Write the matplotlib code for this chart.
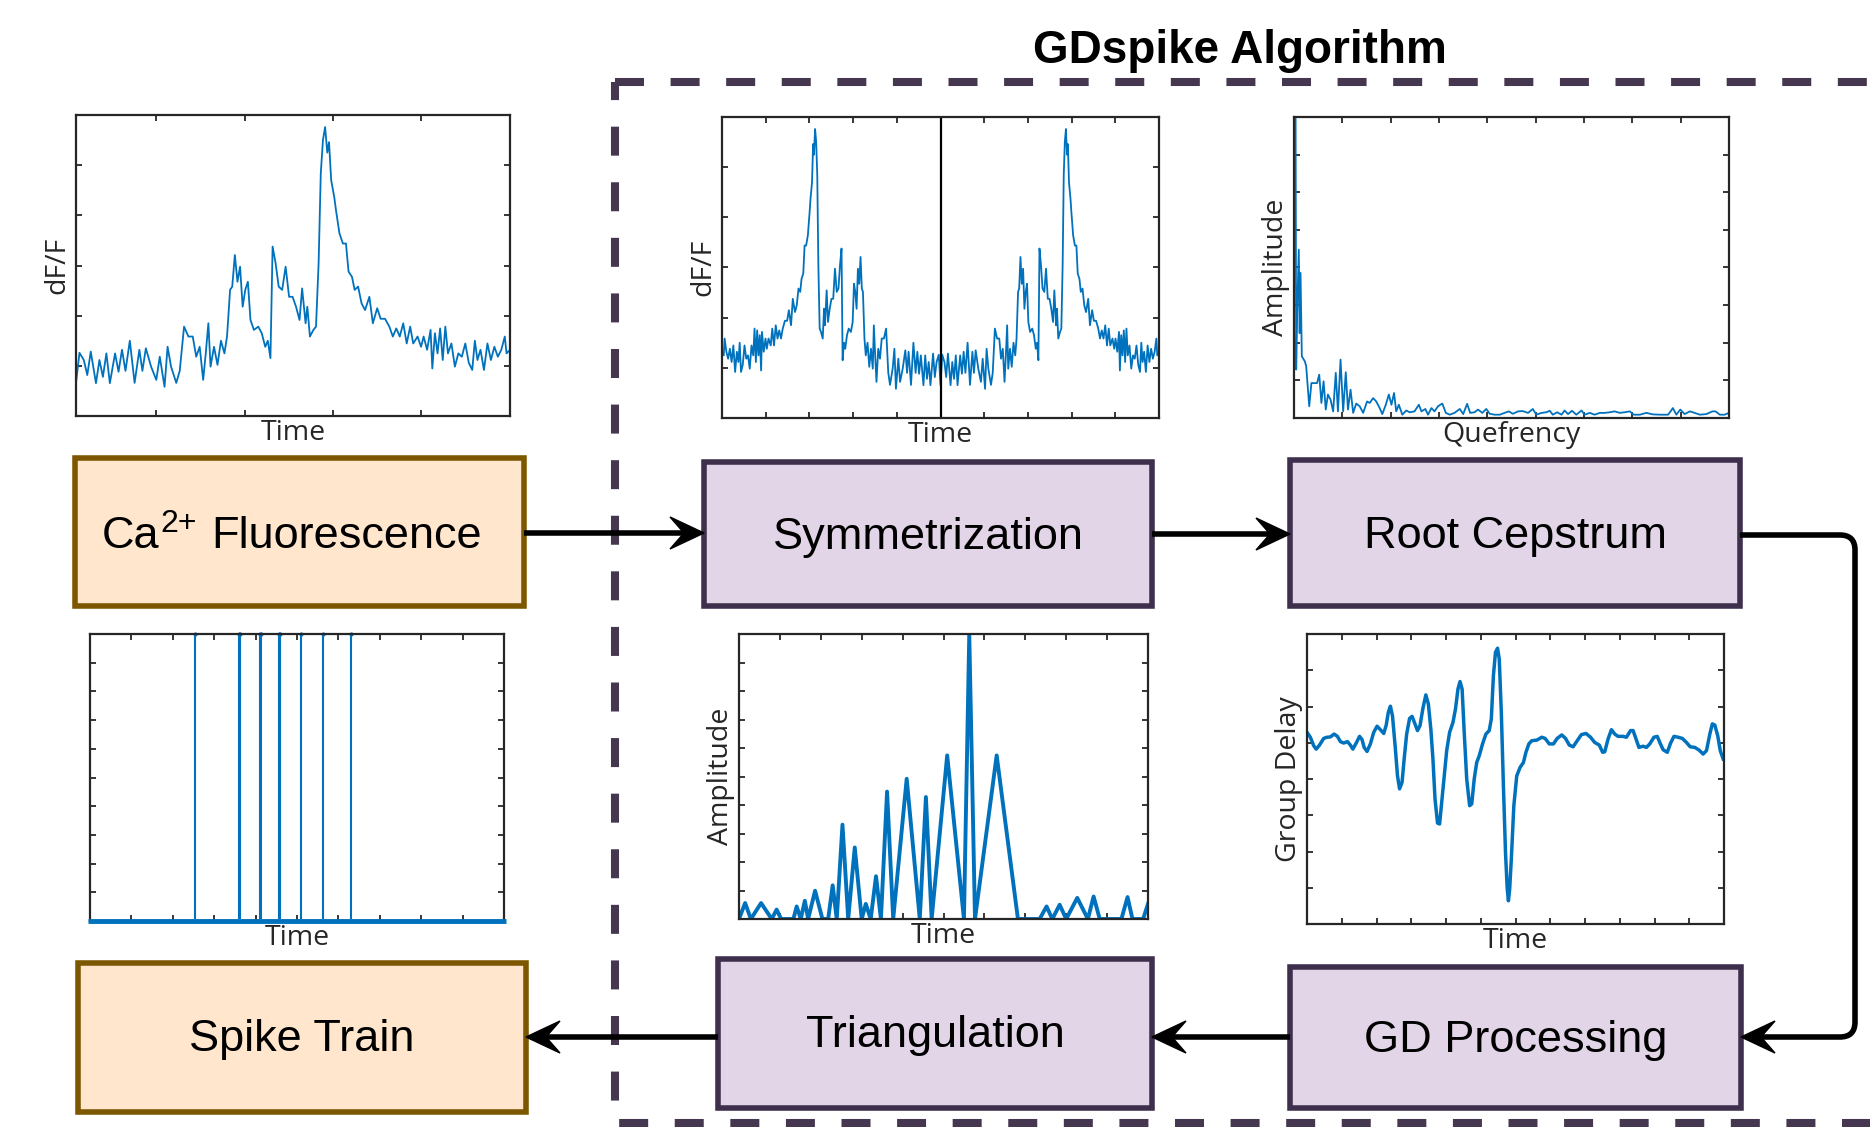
import numpy as np
import matplotlib
matplotlib.use("Agg")
import matplotlib.pyplot as plt
from matplotlib.patches import Rectangle, Polygon, PathPatch
from matplotlib.path import Path

# Ca2+ fluorescence trace
fluo_time = [0, 0.8, 1.8, 2.6, 3.4, 4.6, 5.4, 6.2, 7.0, 7.8,
             9.0, 9.8, 10.6, 11.4, 12.4, 13.5, 14.6, 15.3, 16.1, 17.3,
             18.5, 19.3, 20.4, 21.1, 21.9, 23.1, 23.9, 24.9, 25.9, 26.9,
             27.7, 28.5, 29.3, 29.9, 30.5, 31.0, 31.8, 32.6, 33.4, 34.2,
             34.8, 35.5, 36.0, 36.6, 37.2, 37.8, 38.4, 39.0, 39.6, 40.2,
             41.0, 42.0, 42.8, 43.6, 44.2, 44.8, 45.3, 46.0, 46.7, 47.5,
             48.3, 49.1, 49.9, 50.7, 51.5, 52.1, 52.9, 53.3, 53.9, 54.7,
             55.3, 55.9, 56.4, 56.9, 57.4, 57.9, 58.3, 58.8, 59.5, 59.9,
             60.7, 61.5, 62.2, 62.8, 63.6, 64.2, 65.0, 65.8, 66.6, 67.6,
             68.4, 69.4, 70.2, 71.2, 72.2, 73.0, 73.8, 74.6, 75.4, 76.2,
             77.0, 77.7, 78.7, 79.5, 80.1, 80.9, 81.7, 82.1, 82.7, 83.3,
             83.9, 84.5, 85.1, 85.7, 86.5, 87.3, 88.1, 88.9, 89.7, 90.5,
             91.3, 91.9, 92.5, 93.2, 94.0, 94.8, 95.6, 96.4, 97.2, 98.0,
             98.8, 99.2, 100]
fluo_dff = [11, 21, 18.6, 13.6, 21.4, 10.9, 18.6, 13, 20.8, 10.9,
            20.8, 14.7, 22, 15, 25, 11, 22, 15, 22.5, 16.4,
            12, 19.7, 9.7, 23, 16.4, 11, 15, 29.7, 26.4, 26.4,
            19.7, 23, 12, 20.8, 30.8, 16.4, 23, 17, 25, 20.8,
            26.4, 41.9, 43, 53.5, 44.6, 49.6, 36.3, 41.9, 44.6, 31.9,
            28.6, 29.7, 27.5, 23, 25, 19.2, 56.3, 50.7, 43, 41.9,
            49.6, 39.6, 39.6, 36.3, 31.9, 42.4, 30.8, 36.3, 26.4, 28.6,
            29.7, 50.7, 80.6, 91.7, 96, 87.5, 91, 78.3, 72.8, 68.4,
            60.7, 57.3, 57.3, 48, 46.2, 41.9, 43, 37.4, 35.2, 39.6,
            30.8, 35.8, 32.3, 32.3, 29.7, 26.4, 29.1, 26.4, 30.8, 24.1,
            29.7, 24.1, 26.4, 23, 26.4, 22, 28.6, 15.8, 27.5, 20.8,
            29.1, 18.6, 29.7, 20.8, 24.1, 16.4, 20.8, 19.7, 24.1, 17.7,
            15.3, 25, 18.6, 22, 15.3, 24.1, 18.6, 23, 19.7, 22,
            26.4, 20.8, 22]

# root cepstrum
quefrency = [0.3, 0.5, 0.8, 1.1, 1.3, 1.5, 1.8, 2.5, 2.8, 3.5,
             4.0, 4.8, 5.3, 5.8, 6.3, 6.8, 7.3, 7.8, 8.4, 9.0,
             9.6, 10.1, 10.7, 11.3, 11.9, 12.4, 13.0, 13.6, 14.3, 15.1,
             15.9, 16.8, 17.4, 18.2, 18.9, 19.7, 20.3, 21.1, 21.8, 22.4,
             23.0, 23.5, 24.1, 24.9, 25.8, 26.6, 27.7, 28.7, 29.3, 30.2,
             30.8, 31.6, 32.3, 33.1, 34.1, 34.9, 35.8, 36.9, 38.1, 38.9,
             39.8, 40.5, 41.5, 42.3, 43.3, 44.2, 45.0, 46.1, 47.3, 48.4,
             49.4, 50.3, 51.5, 52.6, 53.8, 54.9, 55.7, 56.9, 58.0, 58.8,
             59.5, 60.5, 61.5, 62.2, 63.0, 63.9, 64.9, 66.1, 66.8, 68.0,
             69.1, 70.3, 71.4, 72.6, 73.7, 74.9, 76.0, 77.2, 78.1, 79.5,
             81.0, 82.5, 84.1, 86.0, 87.1, 87.9, 88.8, 89.8, 91.0, 92.1,
             93.3, 94.8, 96.2, 96.9, 97.9, 99.0, 100]
cep_amp = [140, 16.1, 39.3, 55.9, 28.2, 48.2, 20.5, 18.8, 17.2, 3.9,
           11.6, 11.6, 11.6, 14.4, 5.0, 12.2, 2.8, 7.8, 6.1, 2.2,
           15.0, 2.2, 19.4, 2.2, 15.2, 2.8, 9.4, 1.7, 4.8, 3.9,
           1.7, 5.5, 5.0, 6.6, 5.5, 3.3, 1.3, 4.4, 7.8, 4.4,
           8.3, 2.2, 4.4, 1.1, 2.5, 1.9, 2.2, 4.4, 2.2, 3.0,
           1.1, 3.3, 2.2, 3.9, 4.8, 1.7, 1.1, 1.7, 3.0, 1.3,
           4.7, 1.7, 1.9, 2.8, 1.7, 3.0, 1.4, 1.1, 1.1, 1.7,
           2.2, 1.4, 2.2, 2.3, 1.7, 3.0, 1.1, 1.7, 1.9, 2.4,
           1.1, 1.9, 1.1, 2.5, 1.3, 2.4, 1.1, 2.5, 1.1, 1.7,
           1.1, 1.7, 1.7, 1.9, 2.2, 1.7, 1.9, 2.2, 1.1, 1.1,
           1.7, 1.2, 1.1, 1.1, 3.3, 1.1, 2.8, 1.3, 2.2, 1.7,
           1.1, 1.3, 2.2, 2.2, 1.1, 1.1, 1.7]

# group delay
gd_time = [0, 0.8, 1.6, 2.2, 3.0, 4.0, 4.8, 5.6, 6.5, 7.3,
           8.0, 8.8, 9.7, 10.4, 11.0, 11.8, 12.6, 13.2, 13.7, 14.4,
           15.2, 16.0, 16.8, 17.6, 18.4, 19.0, 19.5, 20.0, 20.5, 21.2,
           21.7, 22.2, 22.8, 23.3, 23.9, 24.6, 25.2, 25.9, 26.5, 27.1,
           27.8, 28.5, 29.1, 29.7, 30.2, 30.7, 31.3, 31.8, 32.3, 32.9,
           33.5, 34.2, 35.0, 35.6, 36.2, 36.7, 37.2, 37.7, 38.3, 39.0,
           39.5, 40.1, 40.7, 41.3, 42.1, 42.9, 43.7, 44.2, 44.7, 45.2,
           45.7, 46.1, 46.6, 47.1, 47.6, 48.0, 48.3, 48.6, 49.0, 49.6,
           50.3, 51.1, 51.9, 52.5, 53.2, 53.9, 55.1, 56.3, 57.1, 58.1,
           59.1, 60.0, 61.1, 62.0, 62.9, 63.8, 64.8, 65.8, 66.9, 68.0,
           69.0, 70.1, 70.9, 71.4, 72.2, 73.0, 73.8, 74.6, 75.8, 76.6,
           77.6, 78.2, 78.9, 79.6, 80.6, 81.4, 82.2, 83.2, 84.0, 84.6,
           85.4, 86.4, 87.2, 88.0, 89.0, 90.0, 91.0, 91.9, 93.0, 94.0,
           95.0, 95.8, 96.6, 97.2, 97.8, 98.5, 99.1, 99.8]
group_delay = [16.1, 14.4, 11.5, 10.3, 11.7, 14.0, 14.4, 14.5, 15.5, 14.7,
               12.9, 12.4, 12.9, 11.7, 10.3, 12.4, 14.7, 13.6, 10.9, 9.5,
               12.1, 16.1, 18.2, 17.0, 15.7, 18.6, 23.0, 25.1, 21.8, 10.3,
               1.1, -3.4, -1.1, 6.9, 15.5, 20.9, 21.6, 19.0, 16.7, 18.4,
               24.4, 29.0, 25.9, 17.2, 6.9, -6.9, -15.2, -15.5, -8.0, 1.1,
               9.8, 16.1, 19.5, 24.1, 31.0, 33.6, 31.0, 16.1, 0, -9.2,
               -8.6, 0, 5.7, 8.0, 12.1, 15.5, 16.7, 20.7, 35.6, 43.7,
               45.1, 41.4, 23.0, -2.3, -25.3, -37.5, -42.0, -38.0, -27.6, -9.2,
               1.1, 4.0, 5.7, 9.2, 12.1, 13.2, 13.4, 14.4, 14.0, 12.1,
               12.1, 14.0, 15.2, 14.0, 11.7, 11.1, 13.2, 15.3, 15.7, 14.4,
               12.6, 11.7, 9.2, 9.4, 13.8, 17.0, 15.5, 14.7, 14.7, 14.4,
               16.7, 16.7, 13.8, 10.9, 11.3, 10.9, 12.1, 14.4, 14.7, 12.6,
               10.1, 9.2, 12.4, 14.7, 14.4, 14.0, 12.6, 11.1, 10.9, 10.0,
               8.6, 9.8, 15.5, 19.0, 18.6, 14.9, 9.8, 6.9]

# triangulation output
tri_time = [0, 1.5, 2.9, 5.4, 8.0, 9.2, 10.3, 13.3, 14.1, 15.1,
            16.1, 16.9, 18.6, 20.4, 21.8, 22.9, 23.9, 25.3, 26.7, 28.3,
            30.0, 31.0, 32.2, 33.5, 34.7, 36.2, 37.7, 41.0, 44.2, 45.7,
            47.1, 50.9, 55.0, 56.3, 57.7, 63.0, 68.2, 73.5, 75.2, 76.6,
            78.4, 80.0, 82.7, 85.3, 86.7, 88.2, 93.5, 95.0, 96.2, 98.8,
            100]
tri_amp = [0, 5.6, 0, 5.6, 0, 3.3, 0, 0, 4.4, 0,
           6.4, 0, 9.9, 0, 0, 11.8, 0, 33.1, 0, 25.1,
           0, 5.3, 0, 15, 0, 44.7, 0, 49.2, 0, 42.8,
           0, 57.4, 0, 100, 0, 57.4, 0, 0, 4.4, 0,
           5.0, 0, 7.4, 0, 7.9, 0, 0, 7.7, 0, 0,
           5.3]

# detected spikes (pairs close together show as thicker lines)
spike_times = [25.3, 36.1, 36.3, 41.0, 41.2, 45.6, 45.8, 50.9, 56.4, 63.0]

W, H = 1870, 1127
BLUE = "#0072BD"
FRAME = "#262626"
PURPLE_FILL = "#e1d5e7"
PURPLE_EDGE = "#3e2f4d"
ORANGE_FILL = "#ffe6cc"
ORANGE_EDGE = "#7d5700"
DASH_COLOR = "#45374f"
BOX_FONT = 32.5
LABEL_FONT = 20.5


def add_px_axes(fig, x0, y0, x1, y1):
    """Axes placed by pixel corners (top-left origin)."""
    return fig.add_axes([x0 / W, 1 - y1 / H, (x1 - x0) / W, (y1 - y0) / H])


def style_axes(ax, xticks, yticks, xlabel=None, ylabel=None):
    ax.set_xticks(xticks)
    ax.set_yticks(yticks)
    ax.tick_params(direction="in", length=4, width=1.3, color=FRAME,
                   top=True, right=True, labelbottom=False, labelleft=False)
    for sp in ax.spines.values():
        sp.set_linewidth(1.6)
        sp.set_color(FRAME)
    if xlabel:
        ax.set_xlabel(xlabel, fontsize=LABEL_FONT, family="Open Sans",
                      color=FRAME, labelpad=2)
    if ylabel:
        ax.set_ylabel(ylabel, fontsize=LABEL_FONT, family="Open Sans",
                      color=FRAME, labelpad=3)


def draw_box(ax, x0, y0, x1, y1, fill, edge, text=None, cap_y=None):
    ax.add_patch(Rectangle((x0, y0), x1 - x0, y1 - y0, facecolor=fill,
                           edgecolor=edge, linewidth=4))
    if text:
        # baseline sits half a cap height below the cap centre
        ax.text((x0 + x1) / 2, cap_y + 16, text, fontsize=BOX_FONT,
                ha="center", va="baseline", color="black")


def ca_label(fig, ax, center_x, baseline):
    """'Ca' + raised '2+' + 'Fluorescence', laid out piece by piece."""
    renderer = fig.canvas.get_renderer()
    pieces = [("Ca", BOX_FONT, 0, 1), ("2+", 23, -16, 14),
              ("Fluorescence", BOX_FONT, 0, 0)]
    texts, x = [], 0
    for s, size, dy, gap in pieces:
        t = ax.text(x, baseline + dy, s, fontsize=size, ha="left",
                    va="baseline")
        x += t.get_window_extent(renderer).width + gap
        texts.append(t)
    shift = center_x - x / 2
    for t in texts:
        t.set_x(t.get_position()[0] + shift)


def arrow_head(ax, tip_x, tip_y, d):
    # d = +1 points right, -1 points left
    L, Wd, notch = 34, 16, 20
    pts = [(tip_x, tip_y), (tip_x - d * L, tip_y - Wd),
           (tip_x - d * notch, tip_y), (tip_x - d * L, tip_y + Wd)]
    ax.add_patch(Polygon(pts, closed=True, facecolor="black",
                         edgecolor="black", linewidth=1))
    return tip_x - d * notch


def straight_arrow(ax, x_start, x_tip, y):
    d = 1 if x_tip > x_start else -1
    x_end = arrow_head(ax, x_tip, y, d)
    ax.plot([x_start, x_end], [y, y], color="black", lw=4,
            solid_capstyle="butt")


def main():
    plt.rcParams["font.family"] = ["Liberation Sans", "DejaVu Sans"]

    fig = plt.figure(figsize=(W / 100, H / 100), dpi=100)

    bg = fig.add_axes([0, 0, 1, 1])
    bg.set_xlim(0, W)
    bg.set_ylim(H, 0)
    bg.axis("off")

    # dashed frame round the algorithm, running off the right edge
    bg.add_patch(Rectangle((615, 82), 1320, 1041, fill=False,
                           edgecolor=DASH_COLOR, linewidth=5.8,
                           linestyle=(0, (3.6, 3.3)), clip_on=False))
    bg.text(1240, 63, "GDspike Algorithm", fontsize=33, fontweight="bold",
            ha="center", va="baseline")

    # process boxes
    draw_box(bg, 75, 458, 524, 606, ORANGE_FILL, ORANGE_EDGE)
    ca_label(fig, bg, 292, 548)
    draw_box(bg, 704, 462, 1152, 606, PURPLE_FILL, PURPLE_EDGE,
             "Symmetrization", 533)
    draw_box(bg, 1290, 460, 1740, 606, PURPLE_FILL, PURPLE_EDGE,
             "Root Cepstrum", 532)
    draw_box(bg, 78, 963, 526, 1112, ORANGE_FILL, ORANGE_EDGE,
             "Spike Train", 1035)
    draw_box(bg, 718, 959, 1152, 1108, PURPLE_FILL, PURPLE_EDGE,
             "Triangulation", 1031)
    draw_box(bg, 1290, 967, 1741, 1108, PURPLE_FILL, PURPLE_EDGE,
             "GD Processing", 1036)

    # arrows
    straight_arrow(bg, 524, 704, 533)
    straight_arrow(bg, 1152, 1290, 534)
    straight_arrow(bg, 1290, 1152, 1037)
    straight_arrow(bg, 718, 526, 1037)

    x_end = arrow_head(bg, 1741, 1037, -1)
    verts = [(1740, 535), (1840, 535), (1855, 535), (1855, 550),
             (1855, 1022), (1855, 1037), (1840, 1037), (x_end, 1037)]
    codes = [Path.MOVETO, Path.LINETO, Path.CURVE3, Path.CURVE3,
             Path.LINETO, Path.CURVE3, Path.CURVE3, Path.LINETO]
    bg.add_patch(PathPatch(Path(verts, codes), fill=False, edgecolor="black",
                           linewidth=4, capstyle="butt", joinstyle="round"))

    time = np.array(fluo_time)
    dff = np.array(fluo_dff)
    sixths = [100 * k / 6 for k in range(1, 6)]

    # Ca2+ fluorescence
    ax1 = add_px_axes(fig, 76, 115, 510, 416)
    ax1.plot(time, dff, color=BLUE, lw=1.3)
    ax1.set_xlim(0, 100)
    ax1.set_ylim(0, 100)
    style_axes(ax1, [18.5, 38.9, 59.3, 79.5], sixths, "Time", "dF/F")

    # symmetrized trace: mirrored copy then the trace itself
    sym_time = np.concatenate([100 - time[::-1], 100 + time])
    sym_dff = np.concatenate([dff[::-1], dff])
    ax2 = add_px_axes(fig, 722, 117, 1159, 418)
    ax2.plot(sym_time, sym_dff, color=BLUE, lw=1.3)
    ax2.axvline(100, color="black", lw=1.6)
    ax2.set_xlim(0, 200)
    ax2.set_ylim(0, 100)
    style_axes(ax2, range(20, 200, 20), sixths, "Time", "dF/F")

    # root cepstrum
    ax3 = add_px_axes(fig, 1294, 117, 1729, 418)
    ax3.plot(quefrency, cep_amp, color=BLUE, lw=1.3)
    ax3.set_xlim(0, 100)
    ax3.set_ylim(0, 100)
    style_axes(ax3, [100 * k / 9 for k in range(1, 9)],
               [12.5 * k for k in range(1, 8)], "Quefrency", "Amplitude")

    # triangulation
    ax4 = add_px_axes(fig, 739, 634, 1148, 919)
    ax4.plot(tri_time, tri_amp, color=BLUE, lw=2.8)
    ax4.set_xlim(0, 100)
    ax4.set_ylim(0, 100)
    style_axes(ax4, range(10, 100, 10), range(10, 100, 10),
               "Time", "Amplitude")

    # group delay
    ax5 = add_px_axes(fig, 1307, 634, 1724, 924)
    ax5.plot(gd_time, group_delay, color=BLUE, lw=2.5)
    ax5.set_xlim(0, 100)
    ax5.set_ylim(-50, 50)
    style_axes(ax5, [100 * k / 12 for k in range(1, 12)],
               [12.5 * k for k in range(-3, 4)], "Time", "Group Delay")

    # spike train
    ax6 = add_px_axes(fig, 90, 634, 504, 921)
    ax6.vlines(spike_times, 0, 1, color=BLUE, lw=1.5)
    ax6.plot(spike_times, np.ones(len(spike_times)), ".", color=BLUE,
             ms=4, clip_on=False)
    ax6.hlines(0, -0.5, 100.5, color=BLUE, lw=3.5, clip_on=False, zorder=5)
    ax6.set_xlim(0, 100)
    ax6.set_ylim(0, 1)
    style_axes(ax6, range(10, 100, 10), [k / 10 for k in range(1, 10)],
               "Time")

    fig.savefig("out.png", dpi=100)


if __name__ == "__main__":
    main()
